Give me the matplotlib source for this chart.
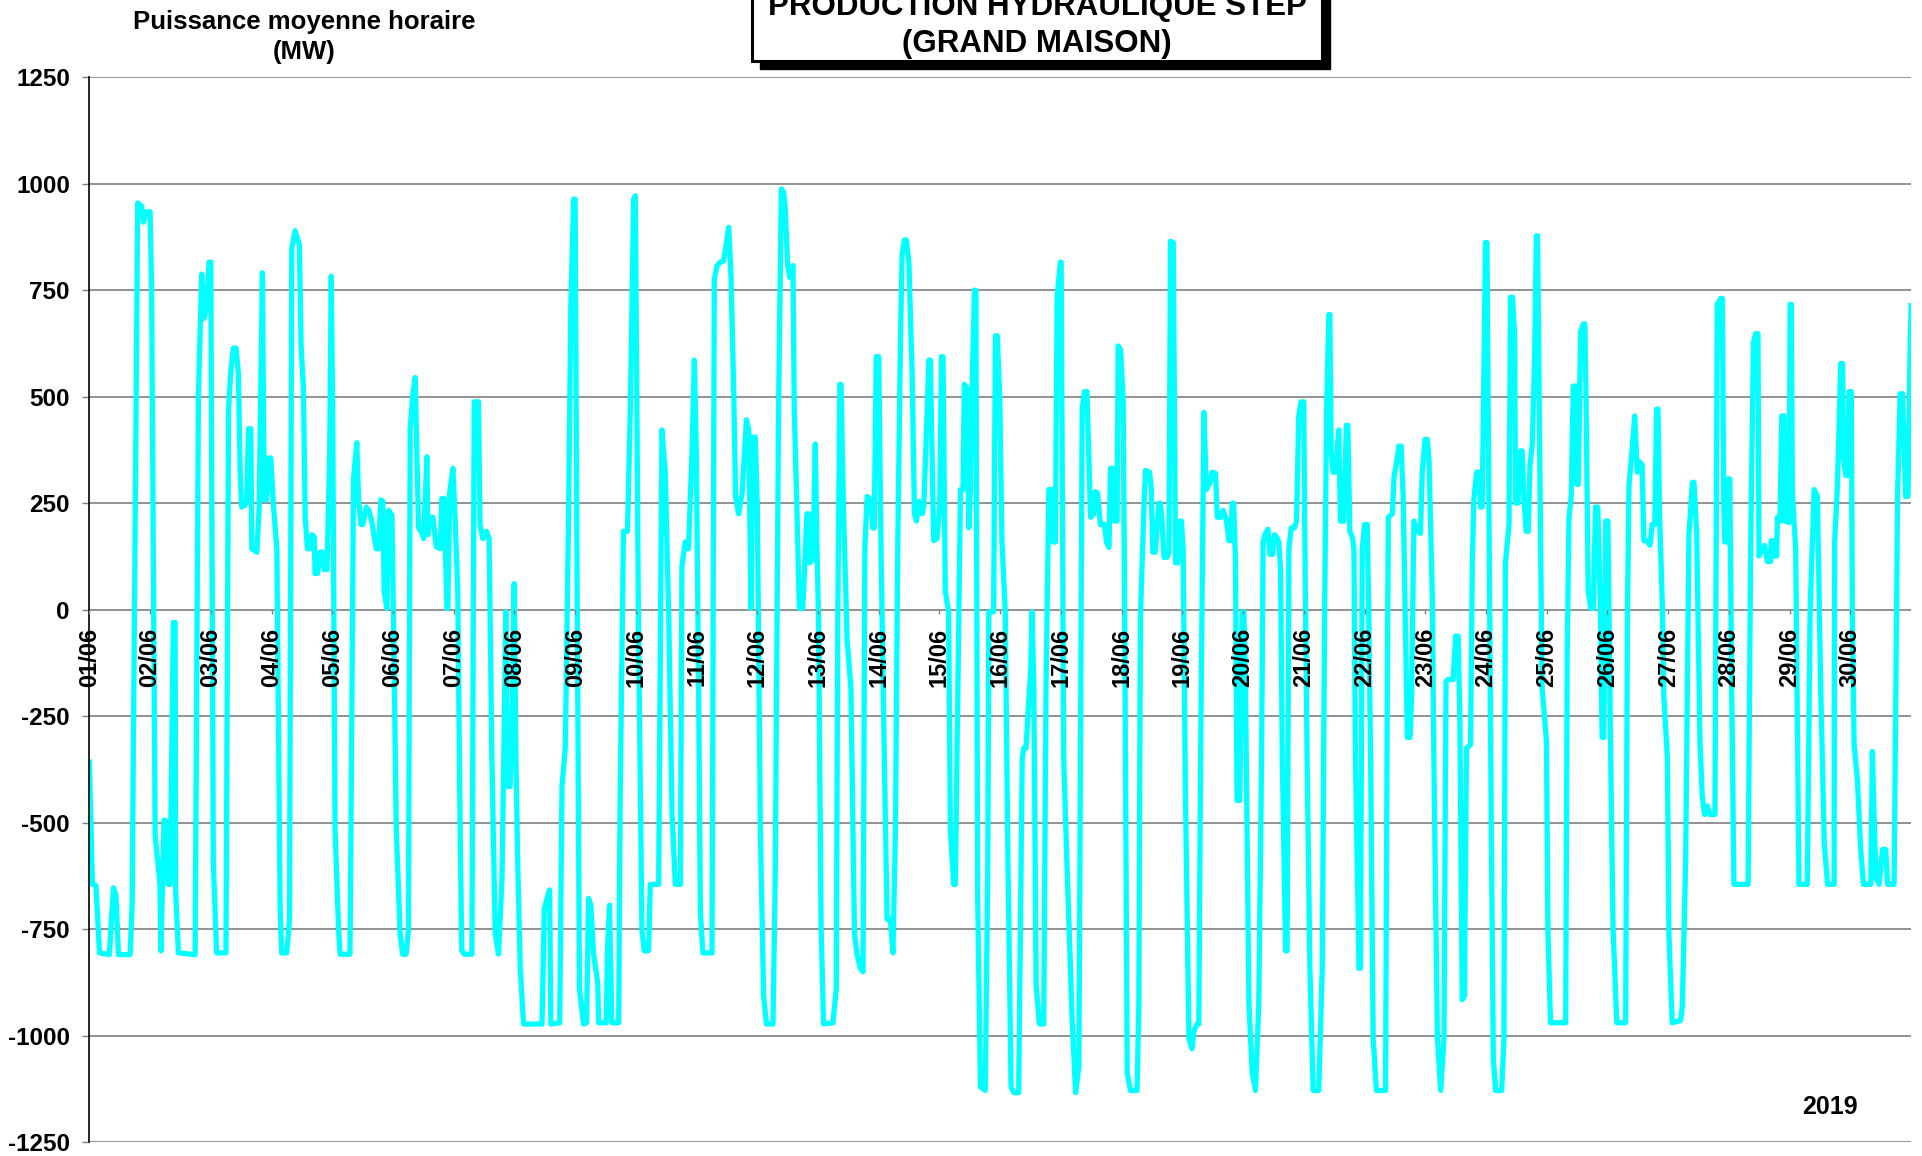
import matplotlib
matplotlib.use("Agg")
import matplotlib.pyplot as plt
from matplotlib.patches import Rectangle

# Production horaire STEP Grand Maison - juin 2019 (MW)
# heures comptées depuis le 01/06 00:00
heures = [
    0, 1.2, 2.6, 4.0, 7.9, 9.5, 10.5, 11.5, 16.1, 16.9, 19.1, 20.7, 21.4, 22.4, 24.0, 24.6,
    26.0, 27.9, 28.3, 29.5, 30.6, 31.2, 31.9, 33.2, 33.9, 34.1, 35.2, 41.8, 43.1, 44.4, 45.3,
    46.4, 47.3, 48.0, 49.0, 50.3, 54.0, 55.0, 55.9, 56.9, 58.0, 58.9, 59.6, 60.2, 61.5, 62.2,
    62.9, 63.8, 64.2, 66.2, 67.1, 68.4, 69.1, 70.1, 70.8, 71.7, 72.8, 74.1, 75.4, 76.0, 78.0,
    79.1, 80.0, 81.3, 83.0, 83.7, 84.6, 85.3, 86.2, 87.3, 88.0, 88.9, 89.2, 90.2, 91.2, 92.1,
    92.8, 93.9, 95.0, 95.6, 96.2, 97.1, 98.5, 99.1, 103.0, 103.5, 104.4, 105.7, 106.4, 107.3,
    108.1, 109.4, 110.5, 111.6, 113.4, 114.3, 115.2, 116.0, 116.5, 117.6, 118.3, 119.6, 120.2,
    121.3, 122.8, 123.8, 125.2, 126.1, 126.8, 127.8, 128.8, 130.1, 131.4, 132.1, 133.4, 133.8,
    134.7, 135.8, 137.1, 138.7, 139.3, 140.2, 141.3, 141.7, 142.4, 143.7, 144.6, 145.6, 146.6,
    147.2, 148.2, 151.2, 152.1, 153.8, 154.4, 155.5, 157.0, 158.0, 159.1, 160.4, 161.7, 163.1,
    164.6, 165.3, 166.3, 167.3, 167.9, 168.6, 169.3, 170.3, 171.6, 178.9, 179.8, 181.9, 182.4,
    185.9, 186.8, 188.1, 189.4, 190.3, 191.4, 192.0, 192.7, 193.7, 195.3, 196.5, 197.3, 198.2,
    199.3, 200.9, 201.3, 204.3, 204.8, 205.6, 206.5, 209.2, 209.8, 211.1, 212.7, 213.8, 215.1,
    215.8, 217.0, 218.4, 219.3, 221.0, 221.7, 225.0, 226.3, 227.6, 229.0, 230.3, 231.6, 233.6,
    234.2, 235.5, 236.8, 238.2, 239.1, 239.9, 240.8, 241.5, 242.5, 246.1, 247.0, 248.1, 249.4,
    250.7, 252.7, 253.6, 254.7, 255.4, 256.6, 258.0, 259.7, 260.6, 261.5, 262.2, 263.2, 264.0,
    265.2, 266.5, 267.6, 270.2, 271.1, 272.4, 273.5, 274.4, 275.0, 276.0, 276.8, 278.1, 278.6,
    279.7, 280.6, 282.0, 283.6, 284.3, 284.7, 286.0, 286.9, 287.6, 288.2, 289.2, 290.2, 293.9,
    295.2, 295.8, 296.6, 297.1, 298.1, 299.5, 301.0, 302.4, 303.4, 304.7, 305.8, 306.5, 307.4,
    308.7, 309.7, 310.2, 311.0, 312.0, 312.9, 314.2, 315.3, 316.6, 317.6, 318.6, 319.5, 320.5,
    321.2, 322.1, 322.9, 323.9, 325.2, 326.1, 326.9, 327.8, 329.1, 329.8, 331.8, 332.4, 333.7,
    335.0, 336.1, 336.8, 337.4, 338.3, 339.6, 340.3, 341.6, 342.3, 342.9, 344.3, 345.3, 345.8,
    346.9, 347.6, 348.2, 348.9, 349.8, 350.4, 351.1, 352.2, 354.1, 355.1, 355.5, 357.4, 358.1,
    358.8, 359.8, 360.7, 362.0, 363.0, 364.3, 365.4, 367.3, 368.7, 369.3, 370.2, 372.1, 372.6,
    373.3, 374.2, 375.5, 377.2, 378.1, 379.2, 380.5, 380.9, 381.8, 382.5, 383.8, 384.1, 385.1,
    386.2, 387.1, 388.4, 389.8, 391.1, 391.7, 392.4, 393.3, 394.3, 395.7, 397.0, 397.6, 398.5,
    399.6, 401.2, 402.0, 403.0, 403.6, 404.6, 405.2, 406.2, 406.6, 407.6, 408.6, 409.2, 410.2,
    411.5, 414.1, 414.8, 415.4, 416.8, 417.4, 419.0, 419.7, 420.3, 421.3, 422.7, 423.3, 424.0,
    424.7, 426.0, 426.7, 427.3, 428.4, 429.3, 430.2, 430.9, 431.6, 432.3, 433.2, 434.6, 435.8,
    436.5, 437.8, 438.5, 439.2, 440.5, 441.5, 442.9, 443.8, 445.1, 445.8, 447.1, 448.1, 449.4,
    450.4, 451.1, 451.7, 452.3, 453.0, 453.6, 454.7, 455.6, 456.3, 456.9, 458.3, 459.6, 460.9,
    462.2, 463.3, 463.9, 464.6, 465.8, 466.6, 467.6, 468.4, 469.2, 470.1, 470.8, 471.5, 472.8,
    473.4, 474.1, 475.0, 476.3, 477.1, 478.0, 478.9, 480.0, 480.3, 481.3, 482.4, 483.7, 485.9,
    487.3, 488.2, 489.0, 489.9, 490.3, 490.8, 491.6, 492.5, 493.8, 494.5, 495.8, 496.8, 497.4,
    498.2, 499.1, 499.8, 500.4, 501.8, 502.4, 503.1, 504.0, 505.1, 505.7, 506.4, 507.4, 508.7,
    512.3, 513.0, 513.4, 515.0, 515.7, 516.3, 517.6, 518.5, 519.3, 520.9, 522.0, 522.6, 523.5,
    524.9, 526.1, 526.8, 527.9, 528.8, 529.5, 530.8, 531.4, 532.8, 534.1, 535.4, 536.2, 537.0,
    539.0, 540.0, 541.0, 541.7, 542.6, 543.5, 544.3, 545.9, 546.6, 547.2, 548.3, 549.2, 549.9,
    550.5, 551.0, 551.8, 552.4, 553.2, 554.1, 554.9, 555.8, 558.2, 559.1, 559.7, 561.1, 561.7,
    562.4, 563.3, 563.7, 564.6, 565.7, 566.3, 567.0, 567.9, 568.7, 569.4, 570.3, 571.2, 571.9,
    572.4, 573.6, 574.2, 575.9, 576.5, 577.5, 583.5, 584.1, 584.8, 585.7, 586.5, 587.8, 587.9,
    588.5, 589.4, 590.5, 591.1, 591.6, 592.4, 593.4, 594.4, 595.3, 596.2, 597.3, 597.9, 598.6,
    599.3, 600.2, 601.3, 602.2, 603.7, 607.2, 607.9, 608.5, 609.8, 610.8, 611.8, 612.5, 613.7,
    614.4, 615.7, 616.8, 617.7, 618.7, 619.4, 620.0, 620.6, 621.7, 622.3, 623.7, 624.3, 625.6,
    628.9, 629.6, 630.9, 632.2, 633.6, 634.2, 635.3, 636.6, 637.5, 638.4, 639.5, 640.5, 642.5,
    643.4, 644.8, 645.4, 646.0, 646.4, 647.4, 647.6, 648.4, 649.1, 650.0, 655.6, 656.6, 657.7,
    658.6, 659.5, 659.9, 661.2, 662.1, 663.2, 664.5, 664.7, 665.8, 666.1, 666.9, 667.2, 668.2,
    668.9, 669.8, 670.0, 671.8, 672.2, 672.7, 673.1, 674.4, 675.7, 679.0, 680.1, 681.7, 683.0,
    684.3, 685.7, 687.0, 689.6, 689.8, 690.9, 692.2, 692.9, 693.3, 694.2, 694.9, 695.5, 696.4,
    696.8, 697.5, 698.8, 700.1, 701.2, 704.1, 704.7, 706.1, 707.4, 708.7, 710.0, 710.7, 713.3,
    714.0, 714.7, 715.7, 716.6, 717.9, 718.8, 719.6, 720.0,
]
puissance = [
    -358, -645, -648, -806, -810, -653, -670, -810, -810, -695, 955, 947, 910, 934, 934, 750,
    -530, -645, -801, -494, -497, -645, -645, -30, -30, -661, -806, -810, 504, 788, 684,
    709, 816, 816, -596, -806, -806, 471, 561, 614, 614, 553, 323, 241, 245, 258,
    425, 425, 143, 135, 241, 791, 258, 258, 356, 356, 241, 143, -702, -806, -806,
    -727, 849, 890, 857, 619, 520, 217, 143, 143, 176, 171, 85, 85, 135, 135,
    94, 94, 373, 783, 438, -514, -752, -809, -809, -432, 307, 392, 258, 200,
    200, 241, 233, 208, 143, 143, 258, 254, 44, 3, 233, 222, -21,
    -514, -760, -809, -809, -752, 422, 504, 545, 192, 181, 167, 359, 176,
    217, 217, 148, 143, 261, 261, 3, 3, 274, 332, 208, 44, -547,
    -801, -809, -809, 488, 488, 200, 167, 184, 167, -350, -760, -809, -629,
    -5, -415, -415, -194, 61, -350, -596, -842, -973, -973, -702, -658, -973,
    -970, -415, -325, 225, 717, 964, 964, 143, -891, -973, -970, -678, -694,
    -809, -875, -970, -970, -793, -694, -970, -970, -432, 184, 184, 471, 964,
    972, -21, -752, -801, -801, -645, -645, 422, 323, -21, -481, -645, -645,
    102, 159, 143, 373, 586, 373, -185, -711, -806, -806, 775, 808, 816,
    819, 898, 783, 504, 266, 225, 274, 446, 422, 3, 405, 405, 241,
    -514, -908, -973, -973, -612, 471, 988, 980, 947, 808, 780, 808, 471,
    225, 3, 3, 225, 225, 110, 118, 389, 143, -21, -744, -973, -970,
    -891, -21, 529, 529, 225, -71, -185, -760, -809, -842, -850, 143, 266,
    258, 192, 192, 594, 594, 143, -350, -727, -727, -806, -514, 143, 602,
    832, 868, 868, 816, 553, 225, 208, 254, 225, 241, 586, 586, 162,
    167, 241, 594, 594, 44, -5, -514, -645, -645, -350, 282, 282, 529,
    520, 192, 274, 520, 750, 750, -678, -1121, -1129, -596, -5, -5, 643,
    643, 504, 159, -5, -563, -1121, -1134, -1134, -350, -325, -325, -136, -5,
    -185, -883, -973, -973, -185, 282, 282, 159, 159, 734, 816, 816, -350,
    -563, -727, -957, -1134, -1072, -350, 471, 512, 512, 217, 225, 277, 274,
    200, 200, 159, 146, 332, 332, 208, 208, 619, 611, 488, -21, -1088,
    -1129, -1129, -924, -21, 241, 327, 323, 287, 135, 135, 250, 250, 208,
    123, 123, 135, 865, 862, 110, 110, 208, 208, 143, -432, -1006, -1031,
    -990, -973, -973, -350, 463, 282, 299, 323, 320, 217, 217, 233, 210,
    162, 162, 250, 250, 110, -448, -448, -5, -5, -153, -924, -1088, -1129,
    -924, -350, 159, 176, 189, 130, 130, 176, 171, 159, 94, -350, -801,
    -801, 143, 192, 192, 208, 455, 488, 488, 225, -350, -842, -1129, -1129,
    -842, -21, 471, 693, 693, 373, 323, 323, 422, 208, 208, 433, 433,
    184, 172, 143, -350, -842, -842, 143, 200, 200, -21, -350, -1006, -1129,
    -1129, -185, 217, 225, 315, 332, 384, 384, 258, -300, -300, -202, 208,
    184, 179, 323, 400, 400, 348, 28, -350, -1006, -1129, -1006, -169, -164,
    -164, -62, -62, -268, -916, -908, -325, -317, 110, 258, 323, 323, 241,
    241, 471, 862, 862, 225, -514, -1055, -1129, -1129, -1006, 110, 200, 734,
    734, 652, 250, 250, 373, 373, 258, 184, 184, 340, 389, 586, 878,
    878, 143, -185, -309, -760, -970, -970, -103, 217, 266, 525, 525, 294,
    294, 652, 671, 671, 471, 44, 3, 3, 241, 241, -21, -300, -300,
    208, 208, -350, -744, -970, -970, -21, 290, 381, 455, 323, 348, 340,
    162, 162, 151, 200, 200, 471, 471, 225, 11, -202, -350, -760, -970,
    -965, -932, -596, 176, 299, 299, 176, -317, -440, -481, -461, -481, -481,
    717, 731, 731, 241, 159, 159, 307, 307, -185, -645, -645, 143, 627,
    648, 648, 126, 143, 151, 113, 113, 162, 162, 126, 126, 217, 208,
    455, 455, 208, 205, 717, 717, 274, 143, -645, -645, -5, 282, 266,
    -185, -547, -645, -645, 159, 290, 578, 578, 356, 315, 315, 512, 512,
    -21, -317, -399, -563, -645, -645, -333, -629, -645, -563, -563, -645, -645,
    -185, 274, 507, 507, 266, 266, 602, 714,
]

jours = [f"{j:02d}/06" for j in range(1, 31)]
graduations_y = [-1250, -1000, -750, -500, -250, 0, 250, 500, 750, 1000, 1250]

plt.rcParams["font.family"] = ["Liberation Sans", "DejaVu Sans"]
plt.rcParams["font.weight"] = "bold"

fig = plt.figure(figsize=(19.22, 11.56), dpi=100)
ax = fig.add_axes([0.0465, 0.0121, 0.9478, 0.9210])

# position de l'axe des x avant de régler les graduations (sinon elles sont réinitialisées)
for s in ["top", "right", "bottom"]:
    ax.spines[s].set_visible(False)
ax.spines["bottom"].set_position(("data", 0))
ax.spines["left"].set_color("black")
ax.spines["left"].set_linewidth(1.2)

for v in graduations_y:
    ax.axhline(v, color="#7f7f7f", lw=1.2, zorder=0)

ax.plot(heures, puissance, color="#00FFFF", lw=3.8, zorder=2)

ax.set_xlim(0, 720)
ax.set_ylim(-1250, 1250)
ax.set_yticks(graduations_y)
ax.set_yticklabels([str(v) for v in graduations_y], fontsize=17.5, fontweight="bold")
ax.tick_params(axis="y", length=5, width=1, color="#7f7f7f", pad=9)

ax.set_xticks([24 * i for i in range(30)])
ax.set_xticklabels(jours, rotation=90, fontsize=17, fontweight="bold")
ax.tick_params(axis="x", length=3, width=1, color="#7f7f7f", pad=10)
ax.xaxis.set_zorder(5)

# titre encadré avec ombre
W, H = 1922, 1156
ombre = Rectangle(((752 + 8) / W, 1 - (61 + 8) / H), 570 / W, 120 / H,
                  transform=fig.transFigure, facecolor="black", edgecolor="black",
                  zorder=1, clip_on=False)
cadre = Rectangle((752 / W, 1 - 61 / H), 570 / W, 120 / H,
                  transform=fig.transFigure, facecolor="white", edgecolor="black",
                  lw=2.2, zorder=2, clip_on=False)
fig.patches.extend([ombre, cadre])
fig.text(1037 / W, 1 - 7 / H, "PRODUCTION HYDRAULIQUE STEP", ha="center", va="center",
         fontsize=22.5, fontweight="bold", zorder=3)
fig.text(1037 / W, 1 - 44 / H, "(GRAND MAISON)", ha="center", va="center",
         fontsize=22.5, fontweight="bold", zorder=3)

fig.text(304 / W, 1 - 22 / H, "Puissance moyenne horaire", ha="center", va="center",
         fontsize=18.5, fontweight="bold")
fig.text(304 / W, 1 - 52 / H, "(MW)", ha="center", va="center",
         fontsize=18.5, fontweight="bold")
fig.text(1829.5 / W, 1 - 1106.5 / H, "2019", ha="center", va="center",
         fontsize=18, fontweight="bold")

fig.savefig("out.png", dpi=100)
